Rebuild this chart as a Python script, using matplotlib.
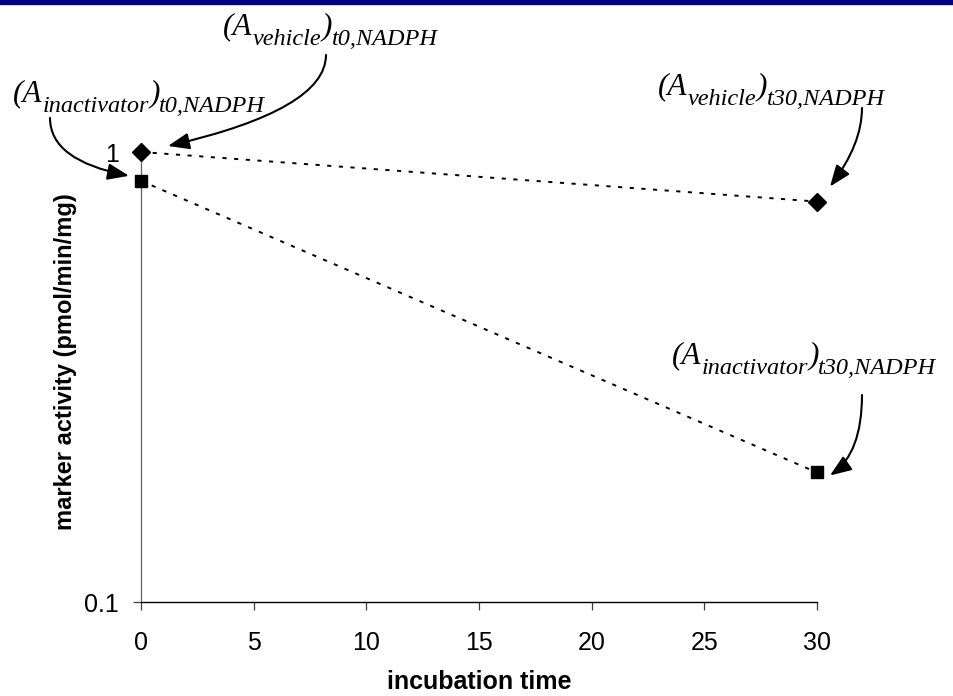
import matplotlib
matplotlib.use("Agg")
import matplotlib.pyplot as plt
from matplotlib.transforms import offset_copy
from matplotlib.patches import Rectangle

# data
time = [0, 30]
vehicle = [1.0, 0.776]
inactivator = [0.863, 0.194]
x_ticks = [0, 5, 10, 15, 20, 25, 30]
y_ticks = [0.1, 1]
y_tick_labels = ["0.1", "1"]

plt.rcParams["font.family"] = ["Liberation Sans", "DejaVu Sans"]

W, H = 954, 696
fig = plt.figure(figsize=(W / 100, H / 100), dpi=100)


def fx(px):
    return px / W


def fy(py):
    return 1 - py / H


# navy band at the top
fig.patches.append(Rectangle((0, fy(4)), 1, 4 / H, transform=fig.transFigure,
                             color="#000080", zorder=0))

ax = fig.add_axes([fx(141), fy(602), fx(817) - fx(141), fy(152) - fy(602)])
ax.set_yscale("log")
ax.set_xlim(0, 30)
ax.set_ylim(0.1, 1)

lw = 1.4
dash = (0, (3.0 / lw, 5.4 / lw))
ax.plot(time, vehicle, color="black", lw=lw, ls=dash, marker="D", ms=9.5,
        clip_on=False, zorder=3)
ax.plot(time, inactivator, color="black", lw=lw, ls=dash, marker="s", ms=9,
        clip_on=False, zorder=3)

for s in ["top", "right"]:
    ax.spines[s].set_visible(False)
ax.spines["left"].set_color("#606060")
ax.spines["left"].set_linewidth(0.9)
ax.spines["bottom"].set_color("black")
ax.spines["bottom"].set_linewidth(1.0)

ax.set_xticks(x_ticks)
ax.set_xticklabels([str(t) for t in x_ticks])
ax.set_yticks(y_ticks)
ax.set_yticklabels(y_tick_labels)
ax.yaxis.set_minor_locator(matplotlib.ticker.NullLocator())
ax.tick_params(axis="x", direction="out", length=6, width=0.9, color="#404040",
               pad=15, labelsize=18)
ax.tick_params(axis="y", direction="out", length=6, width=0.9, color="#404040",
               pad=10, labelsize=18)

fig.text(fx(479), fy(689), "incubation time", ha="center", va="baseline",
         fontsize=18, fontweight="bold")
fig.text(fx(66), fy(362), "marker activity (pmol/min/mg)", ha="center",
         va="center", rotation=90, fontsize=17, fontweight="bold")

# annotation labels, built from pieces: (A  sub  )  sub
renderer = fig.canvas.get_renderer()
MAIN, SUB, DROP = 22.5, 17.5, 11


def rich_label(x, y, who, when):
    pieces = [("(A", MAIN, 0), (who, SUB, DROP), (")", MAIN, 0),
              (when + ",NADPH", SUB, DROP)]
    for s, size, dy in pieces:
        t = fig.text(fx(x), fy(y + dy), s, fontsize=size, style="italic",
                     family="Liberation Serif", ha="left", va="baseline")
        x += t.get_window_extent(renderer).width


rich_label(223, 34, "vehicle", "t0")
rich_label(13, 101, "inactivator", "t0")
rich_label(658, 94, "vehicle", "t30")
rich_label(672, 363, "inactivator", "t30")

# arrows: (x data, y data, tip offset px, tail in image px, angle at tip)
arrows = [
    (time[0], vehicle[0], (27, 6), (326, 55), 13),
    (time[0], inactivator[0], (-12, 5), (50, 118), -11),
    (time[1], vehicle[1], (13, 15), (862, 108), 53),
    (time[1], inactivator[1], (13, -3), (862, 395), 35),
]
for xd, yd, (dx, dy), (tx, ty), ang in arrows:
    tr = offset_copy(ax.transData, fig=fig, x=dx, y=dy, units="dots")
    ax.annotate("", xy=(xd, yd), xycoords=tr,
                xytext=(tx, H - ty), textcoords="figure pixels",
                arrowprops=dict(arrowstyle="-|>,head_length=1.3,head_width=0.5",
                                mutation_scale=10, color="black", lw=1.5,
                                shrinkA=0, shrinkB=0,
                                connectionstyle=f"angle3,angleA=90,angleB={ang}"),
                annotation_clip=False)

fig.savefig("out.png", dpi=100)
